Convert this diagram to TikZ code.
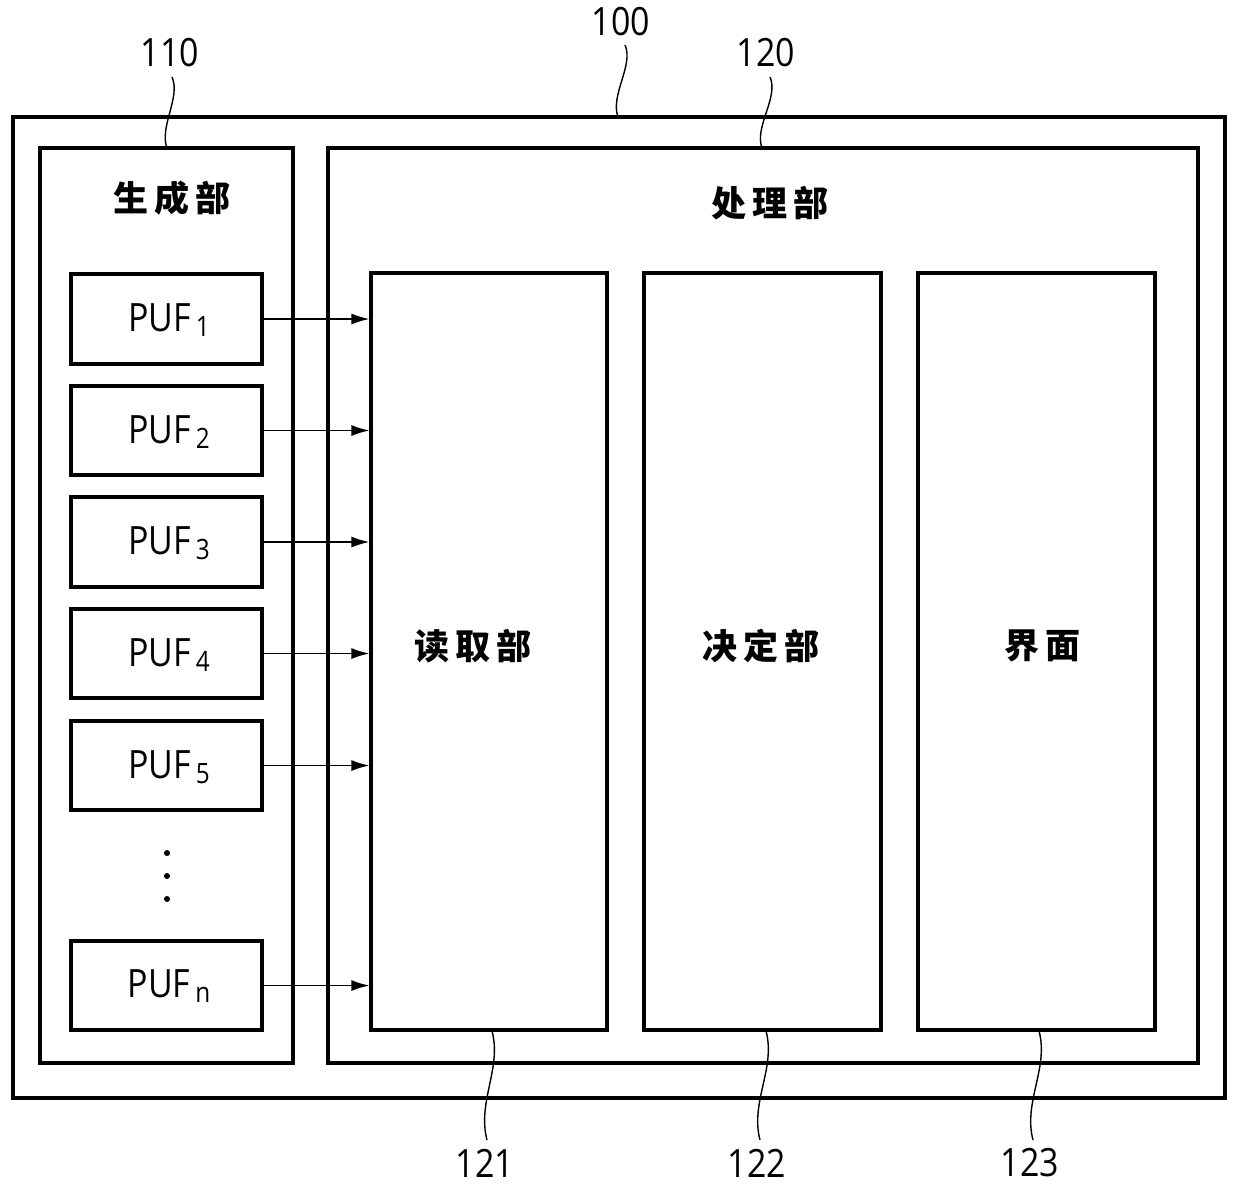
\documentclass[tikz,border=0pt]{standalone}
\usepackage{fontspec}
\setmainfont[FakeStretch=0.87]{Open Sans}
\newfontfamily\cjk{Noto Sans CJK SC}
\usetikzlibrary{fit,arrows.meta}
\tikzset{
  box/.style={draw,line width=1.6pt,inner sep=0pt},
  lead/.style={line width=0.7pt},
  arr/.style={line width=0.8pt,-{Latex[length=9pt,width=5.5pt]}},
  num/.style={font=\fontsize{19.5}{20}\selectfont,inner sep=0pt},
  cj/.style={font=\cjk\bfseries\fontsize{17.5}{18}\selectfont,inner sep=0pt},
  puf/.style={font=\fontsize{19.5}{20}\selectfont,inner sep=0pt},
  dotn/.style={circle,fill,inner sep=0pt,minimum size=3pt}
}
\newcommand{\cjsp}{\hspace{3pt}}
\newcommand{\pufsub}[1]{PUF\hspace{2.5pt}\raisebox{-2.5pt}{\fontsize{14}{14}\selectfont #1}}
\begin{document}
\begin{tikzpicture}[x=0.5pt,y=-0.5pt]
\useasboundingbox (0,0) rectangle (1240,1191);
% boxes
\node[box,fit={(13,117)(1225,1098)}] (n100) {};
\node[box,fit={(40,148)(293,1063)}] (n110) {};
\node[box,fit={(328,148)(1198,1063)}] (n120) {};
\node[box,fit={(371,273)(607,1030)}] (n121) {};
\node[box,fit={(644,273)(881,1030)}] (n122) {};
\node[box,fit={(918,273)(1155,1030)}] (n123) {};
% titles
\node[cj] (t110) at (172,198) {生\cjsp 成\cjsp 部};
\node[cj] (t120) at (770,203) {处\cjsp 理\cjsp 部};
\node[cj] (t121) at (473,646) {读\cjsp 取\cjsp 部};
\node[cj] (t122) at (761,646) {决\cjsp 定\cjsp 部};
\node[cj] (t123) at (1042,646) {界\cjsp 面};
% PUF boxes
\node[box,fit={(71,274)(262,364)}] (p1) {};
\node[box,fit={(71,386)(262,475)}] (p2) {};
\node[box,fit={(71,497)(262,587)}] (p3) {};
\node[box,fit={(71,609)(262,698)}] (p4) {};
\node[box,fit={(71,721)(262,810)}] (p5) {};
\node[box,fit={(71,941)(262,1030)}] (pn) {};
\node[puf] (q1) at (169,320) {\pufsub{1}};
\node[puf] (q2) at (169,432) {\pufsub{2}};
\node[puf] (q3) at (169,543) {\pufsub{3}};
\node[puf] (q4) at (169,655) {\pufsub{4}};
\node[puf] (q5) at (169,767) {\pufsub{5}};
\node[puf] (qn) at (169,986) {\pufsub{n}};
% arrows
\foreach \p in {p1,p2,p3,p4,p5,pn}
  \draw[arr] (\p.east) -- (\p.east -| n121.west);
% dots
\node[dotn] (d1) at (167,853) {};
\node[dotn] (d2) at (167,876) {};
\node[dotn] (d3) at (167,899) {};
% reference numerals
\node[num] (l100) at (621,22) {100};
\node[num] (l110) at (170,53) {110};
\node[num] (l120) at (766,53) {120};
\node[num] (l121) at (485,1163) {121};
\node[num] (l122) at (757,1163) {122};
\node[num] (l123) at (1030,1163) {123};
% leader lines
\coordinate (s100) at (625,45);  \coordinate (e100) at (618,117);
\coordinate (s110) at (172,77);  \coordinate (e110) at (167,148);
\coordinate (s120) at (770,77);  \coordinate (e120) at (762,148);
\coordinate (s121) at (492,1031); \coordinate (e121) at (487,1140);
\coordinate (s122) at (766,1031); \coordinate (e122) at (760,1140);
\coordinate (s123) at (1039,1031); \coordinate (e123) at (1033,1140);
\draw[lead] (s100) .. controls (634,65) and (610,95) .. (e100);
\draw[lead] (s110) .. controls (181,97) and (159,127) .. (e110);
\draw[lead] (s120) .. controls (779,97) and (754,127) .. (e120);
\draw[lead] (s121) .. controls (502,1068) and (477,1102) .. (e121);
\draw[lead] (s122) .. controls (776,1068) and (750,1102) .. (e122);
\draw[lead] (s123) .. controls (1049,1068) and (1023,1102) .. (e123);
\end{tikzpicture}
\end{document}
